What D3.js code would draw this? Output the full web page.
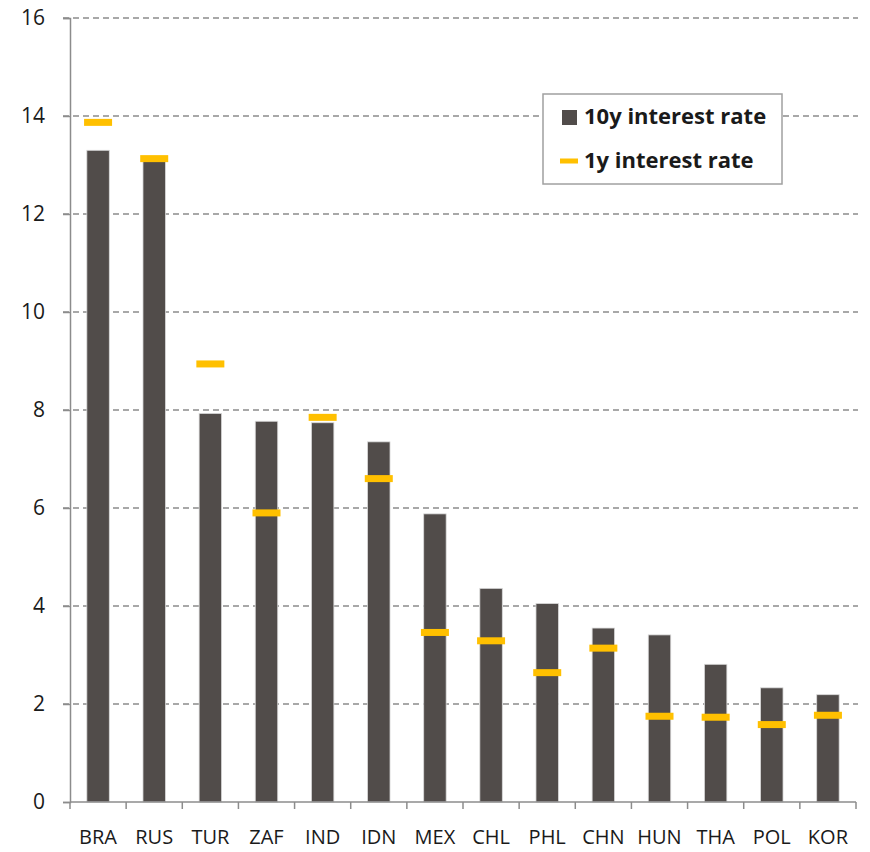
<!DOCTYPE html>
<html>
<head>
<meta charset="utf-8">
<script src="https://cdn.jsdelivr.net/npm/d3@7"></script>
<style>
  body { margin: 0; background: #fff; }
  text { font-family: "Open Sans", "Noto Sans", sans-serif; fill: #1a1a1a; }
</style>
</head>
<body>
<div id="chart"></div>
<script>
// data
var countries = ["BRA","RUS","TUR","ZAF","IND","IDN","MEX","CHL","PHL","CHN","HUN","THA","POL","KOR"];
var rate10y = [13.3, 13.1, 7.93, 7.77, 7.74, 7.35, 5.88, 4.36, 4.05, 3.55, 3.41, 2.81, 2.33, 2.19];
var rate1y  = [13.87, 13.13, 8.94, 5.9, 7.85, 6.6, 3.46, 3.29, 2.64, 3.14, 1.75, 1.73, 1.58, 1.77];
var yTicks = [0, 2, 4, 6, 8, 10, 12, 14, 16];

var W = 870, H = 852;
var margin = {top: 18, right: 12, bottom: 50, left: 70};
var width = W - margin.left - margin.right,
    height = H - margin.top - margin.bottom;

var svg = d3.select("#chart").append("svg")
    .attr("width", W)
    .attr("height", H);

var g = svg.append("g")
    .attr("transform", "translate(" + margin.left + "," + margin.top + ")");

var x = d3.scaleBand().domain(countries).range([0, width - 2]).paddingInner(0.6).paddingOuter(0.3);
var xb = d3.scaleBand().domain(countries).range([0, width - 2]);
var y = d3.scaleLinear().domain([0, 16]).range([height, 0]);

// gridlines
g.selectAll(".grid").data(yTicks.filter(function(d){ return d > 0; }))
  .enter().append("line")
    .attr("x1", -7).attr("x2", width)
    .attr("y1", function(d){ return y(d); })
    .attr("y2", function(d){ return y(d); })
    .attr("stroke", "#8c8c8c")
    .attr("stroke-width", 1.5)
    .attr("stroke-dasharray", "6,4");

// 10y bars
g.selectAll(".bar").data(countries)
  .enter().append("rect")
    .attr("x", function(d){ return x(d); })
    .attr("width", x.bandwidth())
    .attr("y", function(d, i){ return y(rate10y[i]); })
    .attr("height", function(d, i){ return height - y(rate10y[i]); })
    .attr("fill", "#514c4a")
    .attr("stroke", "#d9d9d9")
    .attr("stroke-width", 0.8);

// 1y markers
var mw = 28;
g.selectAll(".mark").data(countries)
  .enter().append("rect")
    .attr("x", function(d){ return x(d) + x.bandwidth() / 2 - mw / 2; })
    .attr("width", mw)
    .attr("y", function(d, i){ return y(rate1y[i]) - 3.5; })
    .attr("height", 7)
    .attr("fill", "#ffc000");

// y axis
var yAxis = d3.axisLeft(y).tickValues(yTicks).tickSize(7).tickPadding(18);
var ya = g.append("g").call(yAxis);
ya.select(".domain").attr("stroke", "#8c8c8c").attr("stroke-width", 1.5);
ya.selectAll(".tick line").attr("stroke", "#8c8c8c").attr("stroke-width", 1.5);
ya.selectAll("text").style("font-size", "21px").attr("fill", "#1a1a1a");

// x axis with ticks between categories
var xa = g.append("g").attr("transform", "translate(0," + height + ")");
xa.append("line")
    .attr("x1", 0).attr("x2", width - 2)
    .attr("stroke", "#8c8c8c").attr("stroke-width", 1.5);
xa.selectAll(".xtick").data(countries.concat(["_end"]))
  .enter().append("line")
    .attr("x1", function(d, i){ return i * xb.step(); })
    .attr("x2", function(d, i){ return i * xb.step(); })
    .attr("y1", 0).attr("y2", 7)
    .attr("stroke", "#8c8c8c").attr("stroke-width", 1.5);
xa.selectAll(".xlab").data(countries)
  .enter().append("text")
    .attr("x", function(d){ return xb(d) + xb.bandwidth() / 2; })
    .attr("y", 42)
    .attr("text-anchor", "middle")
    .style("font-size", "20px")
    .text(function(d){ return d; });

// legend
var lg = svg.append("g").attr("transform", "translate(543,94)");
lg.append("rect")
    .attr("width", 239).attr("height", 90)
    .attr("fill", "#fff")
    .attr("stroke", "#a0a0a0").attr("stroke-width", 1.5);
lg.append("rect")
    .attr("x", 19).attr("y", 16).attr("width", 15).attr("height", 15)
    .attr("fill", "#514c4a");
lg.append("text")
    .attr("x", 41).attr("y", 30)
    .style("font-size", "22px").style("font-weight", "bold")
    .text("10y interest rate");
lg.append("rect")
    .attr("x", 17).attr("y", 64.5).attr("width", 18).attr("height", 5)
    .attr("fill", "#ffc000");
lg.append("text")
    .attr("x", 41).attr("y", 74)
    .style("font-size", "22px").style("font-weight", "bold")
    .text("1y interest rate");
</script>
</body>
</html>
